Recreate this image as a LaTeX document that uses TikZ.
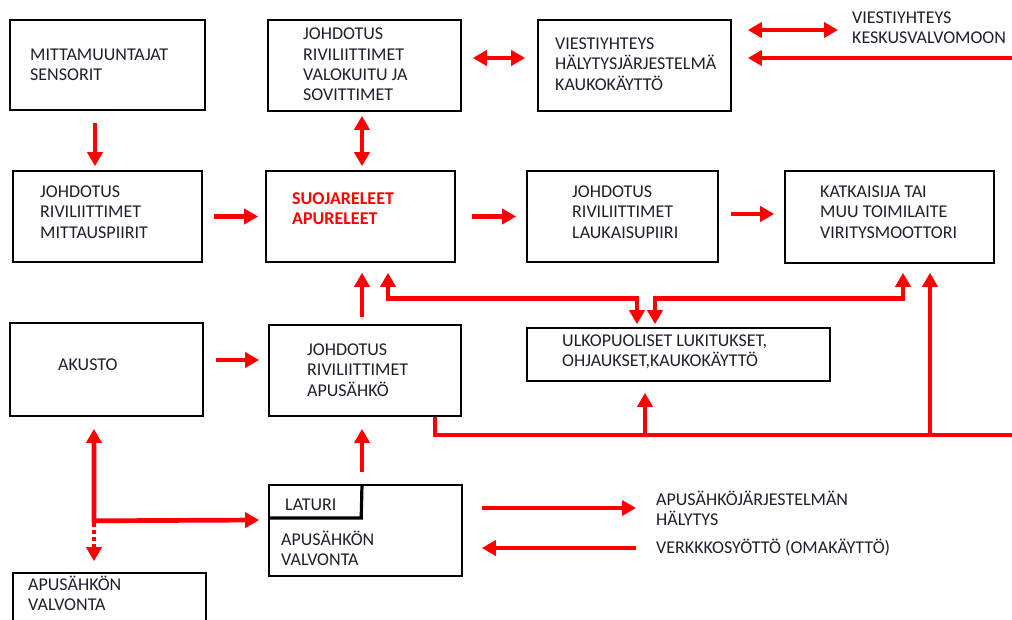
\documentclass[tikz,border=0pt]{standalone}
\usepackage{fontspec}
\setmainfont{Carlito}
\usetikzlibrary{arrows.meta,calc}
\definecolor{ink}{RGB}{30,30,45}
\begin{document}
\begin{tikzpicture}[x=1pt,y=-1pt,
  box/.style={draw=black, line width=1.6pt, rectangle, inner sep=0pt},
  txt/.style={anchor=west, align=left, inner sep=0pt, text=ink, font=\fontsize{18}{20.3}\selectfont},
  rtxt/.style={txt, text=red, font=\fontsize{18}{20.3}\selectfont\bfseries},
  rline/.style={draw=red, line width=4.7pt},
  arr/.style={rline, -{Triangle[length=14pt,width=15pt]}},
  dbl/.style={rline, {Triangle[length=14pt,width=15pt]}-{Triangle[length=14pt,width=15pt]}},
  dsh/.style={rline, dash pattern=on 4pt off 3pt, -{Triangle[length=14pt,width=15pt]}}
]
\useasboundingbox (0,0) rectangle (1012,619);
\clip (0,0) rectangle (1012,619);

% boxes
\node[box, minimum width=195pt, minimum height=90pt] (b1) at (107.5,65) {};
\node[box, minimum width=193pt, minimum height=91pt] (b2) at (364.5,65.5) {};
\node[box, minimum width=193pt, minimum height=91pt] (b3) at (634.5,65.5) {};
\node[box, minimum width=189pt, minimum height=91pt] (b4) at (107.5,216.5) {};
\node[box, minimum width=189pt, minimum height=91pt] (b5) at (360.5,216.5) {};
\node[box, minimum width=191pt, minimum height=91pt] (b6) at (622.5,216.5) {};
\node[box, minimum width=209pt, minimum height=92pt] (b7) at (889.5,217) {};
\node[box, minimum width=193pt, minimum height=93pt] (b8) at (106.5,369.5) {};
\node[box, minimum width=192pt, minimum height=91pt] (b9) at (365,370.5) {};
\node[box, minimum width=303pt, minimum height=53pt] (b10) at (678.5,354.5) {};
\node[box, minimum width=193pt, minimum height=91pt] (b11) at (365.5,530.5) {};
\node[box, minimum width=193pt, minimum height=67pt] (b12) at (109.5,606.5) {};

% texts
\node[txt] (t1) at (30,65) {MITTAMUUNTAJAT\\SENSORIT};
\node[txt] (t2) at (303,64.5) {JOHDOTUS\\RIVILIITTIMET\\VALOKUITU JA\\SOVITTIMET};
\node[txt] (t3) at (555,64) {VIESTIYHTEYS\\HÄLYTYSJÄRJESTELMÄ\\KAUKOKÄYTTÖ};
\node[txt] (t4) at (40,212) {JOHDOTUS\\RIVILIITTIMET\\MITTAUSPIIRIT};
\node[rtxt] (t5) at (292,209) {SUOJARELEET\\APURELEET};
\node[txt] (t6) at (572,212) {JOHDOTUS\\RIVILIITTIMET\\LAUKAISUPIIRI};
\node[txt] (t7) at (820,212) {KATKAISIJA TAI\\MUU TOIMILAITE\\VIRITYSMOOTTORI};
\node[txt] (t8) at (58,365) {AKUSTO};
\node[txt] (t9) at (307,370) {JOHDOTUS\\RIVILIITTIMET\\APUSÄHKÖ};
\node[txt] (t10) at (562,352) {ULKOPUOLISET LUKITUKSET,\\OHJAUKSET,KAUKOKÄYTTÖ};
\node[txt] (t11) at (285,505) {LATURI};
\node[txt] (t11b) at (281,548) {APUSÄHKÖN\\VALVONTA};
\node[txt] (t12) at (28,593.5) {APUSÄHKÖN\\VALVONTA};
\node[txt] (t13) at (852,27.5) {VIESTIYHTEYS\\KESKUSVALVOMOON};
\node[txt] (t14) at (656,508) {APUSÄHKÖJÄRJESTELMÄN\\HÄLYTYS};
\node[txt] (t15) at (656,548) {VERKKKOSYÖTTÖ (OMAKÄYTTÖ)};

% free ends at the right edge
\coordinate (rtop) at (1012,58);
\coordinate (rbot) at (1012,435);

% LATURI corner
\draw[black, line width=3.2pt] ($(b11.west)+(0,-12.5)$) -- ++(93,0) -- ($(b11.north)+(-3.5,0)$);

% connectors
\draw[arr] ($(b1.south)+(-12.5,12)$) -- ($(b4.north)+(-12.5,-4)$);
\draw[dbl] ($(b2.south)+(-2.5,4)$) -- ($(b5.north)+(1.5,-4)$);
\draw[dbl] ($(b2.east)+(11,-7.5)$) -- ($(b3.west)+(-12,-7.5)$);
\draw[dbl] ($(b3.east)+(16,-35.5)$) -- ($(t13.west)+(-14,2.5)$);
\draw[arr] (rtop) -- ($(b3.east)+(16,-7.5)$);

\draw[arr] ($(b4.east)+(11,0)$) -- ($(b5.west)+(-7,0)$);
\draw[arr] ($(b5.east)+(16,0)$) -- ($(b6.west)+(-10,0)$);
\draw[arr] ($(b6.east)+(12,-2.5)$) -- ($(b7.west)+(-10,-3)$);

\draw[arr] ($(b8.east)+(12,-9.5)$) -- ($(b9.west)+(-9,-10.5)$);
\draw[arr] ($(b9.north)+(-3,-7)$) -- ($(b5.south)+(1.5,10)$);

\draw[dbl] ($(b5.south)+(27.5,10)$) -- ++(0,26) -| ($(b10.north)+(-41.5,-3)$);
\draw[dbl] ($(b7.south)+(13.5,9)$) -- ++(0,26) -| ($(b10.north)+(-23.5,-3)$);

\draw[rline] ($(b9.south)+(70,0)$) |- (rbot);
\draw[arr] ($(b10.south)+(-33.5,54)$) -- ($(b10.south)+(-33.5,11)$);
\draw[arr] ($(b7.south)+(40.5,172)$) -- ($(b7.south)+(40.5,9)$);

\draw[arr] ($(b11.north)+(-3.5,-12)$) -- ($(b9.south)+(-3,12)$);
\draw[dbl] ($(b8.south)+(-12.5,12)$) -- ++(0,92) -- ($(b11.west)+(-9,-10.5)$);
\draw[dsh] ($(b12.north)+(-15.5,-49)$) -- ($(b12.north)+(-15.5,-11)$);

\draw[arr] ($(b11.east)+(19,-22.5)$) -- ($(t14.west)+(-20,0)$);
\draw[arr] ($(t15.west)+(-20,0)$) -- ($(b11.east)+(19,17.5)$);
\end{tikzpicture}
\end{document}
